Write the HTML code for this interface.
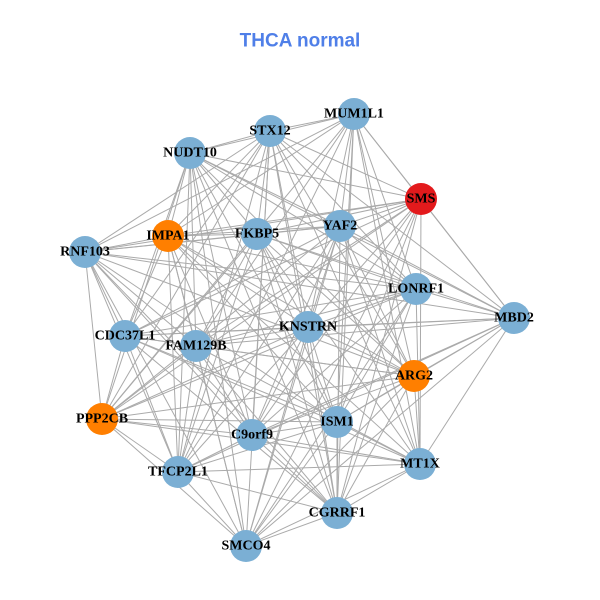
<!DOCTYPE html>
<html><head><meta charset="utf-8"><style>
body{margin:0;background:#fff;width:600px;height:600px;overflow:hidden}
svg{display:block}
.t{font-family:"Liberation Serif",serif;font-weight:bold;font-size:14px;fill:#000;text-anchor:middle;dominant-baseline:central}
</style></head><body>
<svg id="s" width="600" height="600" xmlns="http://www.w3.org/2000/svg">
<text x="300" y="41" font-family="Liberation Sans,sans-serif" font-weight="bold" font-size="19" fill="#4F7FE8" text-anchor="middle" dominant-baseline="central">THCA normal</text>
<g id="e" stroke="#aaaaaa" stroke-width="1"></g>
<g id="n"></g>
</svg>
<script>
var N=[["MUM1L1",354,114,0],["STX12",270,131,0],["NUDT10",190,153,0],["SMS",421,199,1],["IMPA1",168,236,2],["FKBP5",257,234,0],["YAF2",340,226,0],["RNF103",85,252,0],["LONRF1",416,289,0],["MBD2",514,318,0],["CDC37L1",125,336,0],["FAM129B",196,346,0],["KNSTRN",308,327,0],["ARG2",414,376,2],["PPP2CB",102,419,2],["C9orf9",252,435,0],["ISM1",337,422,0],["MT1X",420,464,0],["TFCP2L1",178,472,0],["CGRRF1",337,513,0],["SMCO4",246,546,0]];
var C=["#7BAFD4","#E31A1C","#FF7F00"];
var e=document.getElementById("e"),g=document.getElementById("n"),h="";
for(var i=0;i<N.length;i++)for(var j=i+1;j<N.length;j++){
 if((i*7+j*3)%5==0)continue;
 h+='<line x1="'+N[i][1]+'" y1="'+N[i][2]+'" x2="'+N[j][1]+'" y2="'+N[j][2]+'"/>';}
e.innerHTML=h;h="";
N.forEach(function(d){h+='<circle cx="'+d[1]+'" cy="'+d[2]+'" r="16" fill="'+C[d[3]]+'"/>';});
N.forEach(function(d){h+='<text class="t" x="'+d[1]+'" y="'+d[2]+'">'+d[0]+'</text>';});
g.innerHTML=h;
</script>
</body></html>
